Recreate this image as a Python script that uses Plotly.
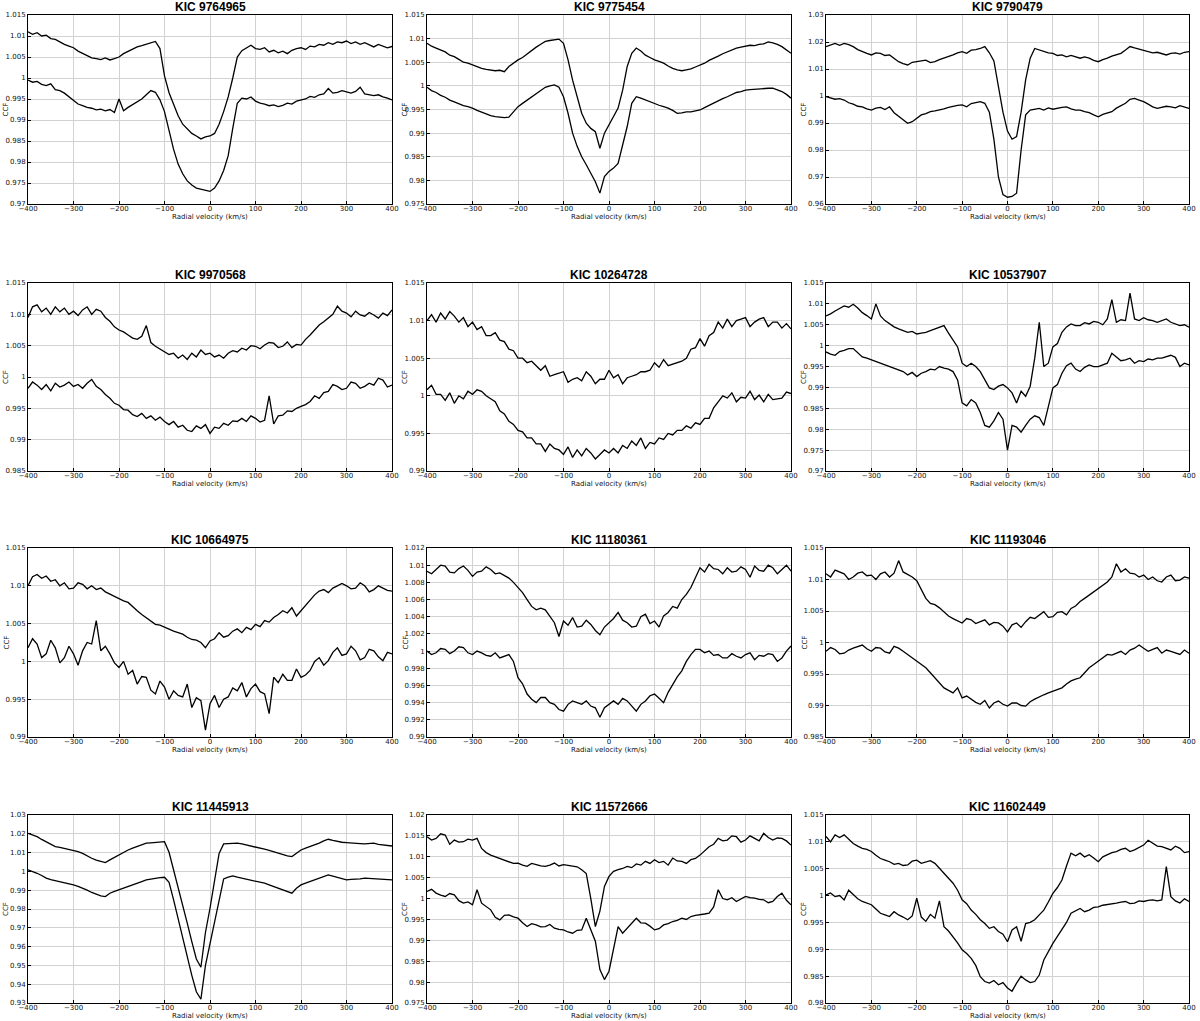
"""Cross-correlation functions of twelve KIC targets"""

import plotly.graph_objects as go

# radial velocity grid (km/s), shared by every panel
RV = list(range(-400, 401, 10))

# CCF values stored as offsets from 1 in units of 1e-4 (CCF = 1 + v * 1e-4)
KIC_9764965_UP = [110, 104, 108, 100, 102, 94, 92, 85, 80, 76,
                  72, 64, 58, 54, 48, 46, 44, 48, 43, 46,
                  50, 58, 64, 70, 74, 77, 80, 84, 87, 70,
                  5, -35, -65, -90, -110, -122, -132, -138, -145, -140,
                  -138, -132, -110, -80, -45, 0, 50, 65, 72, 78,
                  70, 68, 72, 62, 66, 60, 64, 58, 66, 70,
                  72, 68, 76, 74, 80, 78, 84, 80, 86, 84,
                  88, 82, 86, 80, 84, 78, 74, 80, 76, 72,
                  75]
KIC_9764965_LO = [-5, -10, -8, -15, -18, -14, -28, -30, -36, -45,
                  -55, -62, -66, -70, -72, -76, -74, -78, -75, -82,
                  -50, -78, -70, -64, -56, -50, -40, -30, -34, -52,
                  -80, -125, -170, -205, -228, -245, -255, -262, -265, -268,
                  -270, -262, -245, -220, -185, -120, -60, -48, -50, -45,
                  -55, -60, -62, -66, -64, -68, -65, -60, -62, -55,
                  -52, -50, -44, -46, -40, -38, -25, -36, -34, -30,
                  -33, -36, -32, -22, -38, -40, -42, -40, -45, -48,
                  -52]

KIC_9775454_UP = [90, 84, 80, 76, 72, 65, 62, 56, 50, 48,
                  44, 40, 37, 35, 34, 32, 33, 30, 41, 48,
                  55, 60, 68, 76, 82, 88, 94, 96, 97, 99,
                  90, 55, 12, -23, -58, -79, -90, -97, -132, -100,
                  -83, -65, -47, -9, 41, 69, 80, 74, 65, 60,
                  55, 52, 48, 42, 37, 34, 32, 34, 36, 40,
                  44, 48, 54, 58, 63, 68, 72, 76, 80, 82,
                  84, 86, 85, 88, 89, 93, 91, 88, 83, 76,
                  69]
KIC_9775454_LO = [-3, -10, -14, -20, -24, -30, -34, -38, -42, -44,
                  -47, -52, -56, -60, -63, -65, -66, -67, -66, -55,
                  -44, -37, -30, -23, -16, -10, -3, 0, 2, -3,
                  -23, -58, -100, -128, -150, -167, -185, -203, -227, -192,
                  -181, -174, -164, -128, -86, -37, -23, -26, -30, -34,
                  -37, -41, -44, -47, -52, -58, -57, -55, -55, -53,
                  -51, -46, -41, -37, -32, -27, -23, -18, -14, -12,
                  -9, -8, -7, -6, -6, -5, -5, -8, -12, -18,
                  -26]

KIC_9790479_UP = [183, 190, 195, 188, 195, 190, 183, 172, 164, 158,
                  152, 160, 158, 150, 152, 140, 127, 120, 115, 125,
                  127, 130, 133, 124, 127, 135, 140, 146, 152, 160,
                  164, 158, 170, 172, 176, 183, 160, 130, 40, -60,
                  -130, -160, -150, -60, 60, 140, 176, 170, 164, 160,
                  158, 150, 152, 145, 150, 146, 140, 145, 140, 132,
                  127, 135, 140, 148, 152, 158, 170, 183, 178, 174,
                  170, 165, 160, 162, 158, 152, 158, 160, 155, 162,
                  164]
KIC_9790479_LO = [-2, -8, -12, -10, -15, -25, -30, -38, -40, -48,
                  -52, -45, -42, -50, -40, -62, -75, -90, -101, -95,
                  -83, -70, -65, -58, -55, -52, -48, -42, -38, -35,
                  -33, -40, -28, -24, -21, -27, -60, -160, -300, -365,
                  -375, -372, -360, -200, -70, -52, -48, -46, -52, -44,
                  -49, -45, -42, -40, -48, -52, -52, -58, -62, -70,
                  -77, -68, -62, -58, -45, -35, -27, -12, -9, -15,
                  -21, -30, -40, -46, -42, -38, -40, -44, -36, -42,
                  -46]

KIC_9970568_UP = [95, 112, 115, 104, 110, 100, 112, 104, 110, 100,
                  105, 98, 107, 112, 100, 108, 105, 95, 89, 80,
                  75, 72, 67, 62, 60, 65, 82, 55, 49, 45,
                  41, 36, 38, 30, 35, 28, 38, 32, 43, 36,
                  38, 32, 35, 30, 38, 42, 40, 46, 43, 50,
                  49, 45, 51, 55, 54, 47, 49, 56, 47, 52,
                  51, 60, 67, 75, 83, 88, 94, 100, 113, 105,
                  102, 96, 105, 99, 97, 103, 99, 94, 102, 98,
                  107]
KIC_9970568_LO = [-18, -8, -13, -20, -12, -22, -10, -16, -13, -8,
                  -15, -12, -18, -10, -4, -15, -20, -28, -34, -42,
                  -45, -52, -53, -60, -63, -58, -66, -62, -69, -64,
                  -71, -76, -71, -80, -77, -85, -87, -78, -82, -76,
                  -90, -80, -82, -74, -77, -70, -71, -66, -71, -62,
                  -66, -72, -69, -30, -75, -62, -61, -54, -55, -50,
                  -47, -44, -39, -30, -34, -25, -23, -12, -15, -20,
                  -18, -8, -10, -18, -15, -10, -13, -2, -5, -16,
                  -13]

KIC_10264728_UP = [100, 108, 98, 110, 102, 112, 106, 98, 104, 92,
                   98, 88, 92, 80, 80, 84, 74, 72, 62, 60,
                   50, 50, 44, 46, 40, 34, 40, 26, 28, 30,
                   32, 18, 22, 24, 20, 32, 26, 16, 22, 22,
                   34, 24, 28, 16, 24, 26, 28, 32, 32, 34,
                   44, 38, 48, 40, 42, 44, 46, 50, 62, 64,
                   76, 66, 80, 84, 98, 90, 102, 92, 100, 102,
                   104, 92, 98, 102, 104, 92, 98, 98, 90, 96,
                   89]
KIC_10264728_LO = [8, 14, 2, 2, -6, 4, -10, 0, -4, 6,
                   2, 8, 6, 0, -4, -8, -20, -24, -34, -38,
                   -46, -48, -56, -56, -64, -64, -74, -64, -70, -72,
                   -78, -68, -82, -72, -80, -70, -76, -84, -78, -72,
                   -76, -70, -76, -66, -70, -60, -66, -56, -70, -62,
                   -64, -56, -58, -50, -52, -46, -46, -40, -43, -36,
                   -38, -30, -30, -16, -8, 0, -3, 4, -8, -2,
                   -3, 6, -5, 1, -8, 2, -5, -4, -3, 5,
                   3]

KIC_10537907_UP = [71, 76, 83, 88, 95, 92, 99, 90, 79, 72,
                   64, 100, 71, 60, 52, 45, 40, 36, 32, 34,
                   28, 30, 32, 36, 40, 44, 48, 30, 13, -3,
                   -42, -50, -42, -50, -62, -82, -101, -105, -97, -93,
                   -101, -113, -137, -109, -121, -97, -30, 56, -50, -42,
                   -3, 5, 32, 45, 52, 48, 48, 55, 52, 58,
                   56, 50, 64, 110, 56, 62, 60, 126, 64, 60,
                   67, 62, 60, 56, 60, 64, 56, 52, 48, 50,
                   44]
KIC_10537907_LO = [-15, -20, -23, -14, -11, -7, -7, -16, -27, -30,
                   -34, -38, -42, -46, -50, -54, -58, -62, -70, -64,
                   -74, -66, -62, -56, -58, -50, -54, -56, -62, -82,
                   -137, -144, -129, -137, -160, -191, -195, -180, -160, -176,
                   -250, -191, -195, -207, -191, -176, -168, -172, -191, -144,
                   -101, -93, -66, -48, -42, -56, -62, -52, -46, -50,
                   -50, -46, -42, -18, -27, -36, -34, -30, -42, -36,
                   -38, -32, -34, -30, -30, -26, -23, -28, -50, -42,
                   -46]

KIC_10664975_UP = [100, 112, 115, 110, 113, 106, 108, 100, 104, 96,
                   97, 104, 102, 96, 100, 95, 97, 92, 89, 86,
                   82, 80, 78, 72, 67, 62, 58, 54, 49, 48,
                   45, 42, 40, 38, 36, 32, 29, 28, 25, 18,
                   27, 30, 38, 32, 34, 40, 43, 38, 45, 42,
                   49, 46, 54, 52, 58, 62, 67, 64, 71, 60,
                   67, 75, 82, 88, 93, 95, 91, 97, 100, 103,
                   100, 96, 97, 104, 100, 92, 95, 100, 97, 94,
                   93]
KIC_10664975_LO = [18, 30, 23, 5, 10, 28, 18, -2, 5, 20,
                   10, -5, 14, 25, 23, 54, 14, 20, 10, -2,
                   -8, 0, -17, -12, -30, -20, -21, -38, -43, -26,
                   -34, -50, -39, -45, -47, -30, -61, -48, -52, -91,
                   -56, -45, -61, -50, -47, -35, -39, -28, -47, -36,
                   -30, -40, -43, -69, -21, -28, -17, -25, -25, -10,
                   -21, -18, -12, 0, 5, -5, 1, 12, 18, 8,
                   10, 20, 14, 2, 5, 16, 14, 6, 1, 12,
                   10]

KIC_11180361_UP = [93, 90, 95, 100, 99, 92, 91, 96, 99, 94,
                   87, 92, 93, 98, 95, 90, 91, 88, 85, 80,
                   74, 68, 60, 52, 48, 50, 48, 40, 33, 17,
                   35, 30, 39, 28, 29, 36, 31, 24, 19, 28,
                   33, 38, 45, 36, 33, 28, 29, 40, 43, 32,
                   35, 28, 41, 45, 52, 50, 60, 66, 74, 85,
                   97, 92, 101, 96, 95, 90, 97, 92, 93, 98,
                   95, 86, 99, 94, 93, 100, 97, 90, 95, 100,
                   93]
KIC_11180361_LO = [0, -4, -2, 3, 2, -3, 0, 5, 4, -2,
                   -4, 0, -2, -5, -6, -2, -8, -6, -4, -12,
                   -31, -38, -50, -56, -60, -54, -54, -60, -62, -68,
                   -70, -62, -58, -60, -62, -58, -64, -66, -77, -66,
                   -62, -58, -62, -55, -58, -64, -70, -62, -58, -52,
                   -50, -55, -60, -48, -39, -30, -23, -12, -4, 2,
                   2, -2, 0, -5, -4, -8, -8, -3, -6, -8,
                   -4, -2, -10, -5, -6, -3, -4, -12, -8, 0,
                   6]

KIC_11193046_UP = [109, 104, 115, 112, 109, 100, 104, 110, 112, 106,
                   107, 100, 109, 112, 104, 110, 130, 112, 108, 104,
                   98, 85, 70, 62, 60, 55, 49, 42, 38, 34,
                   31, 38, 36, 30, 33, 36, 28, 32, 31, 26,
                   17, 28, 31, 24, 33, 40, 38, 44, 49, 40,
                   41, 48, 49, 44, 54, 58, 65, 70, 75, 80,
                   86, 90, 96, 104, 125, 112, 117, 110, 109, 104,
                   107, 100, 104, 98, 96, 104, 107, 98, 99, 104,
                   102]
KIC_11193046_LO = [-14, -8, -11, -18, -17, -12, -9, -6, -4, -10,
                   -14, -8, -9, -15, -17, -6, -9, -14, -19, -24,
                   -30, -35, -40, -48, -56, -64, -72, -76, -80, -72,
                   -88, -85, -90, -95, -98, -92, -104, -96, -93, -98,
                   -101, -96, -96, -100, -101, -94, -90, -86, -83, -80,
                   -77, -74, -72, -66, -61, -58, -56, -48, -40, -35,
                   -30, -24, -19, -20, -17, -14, -19, -12, -9, -4,
                   -9, -14, -11, -8, -17, -12, -14, -16, -19, -12,
                   -17]

KIC_11445913_UP = [203, 195, 185, 170, 158, 145, 132, 128, 123, 118,
                   114, 105, 96, 82, 70, 60, 52, 47, 61, 75,
                   88, 100, 114, 124, 132, 142, 150, 152, 153, 156,
                   158, 102, 10, -88, -187, -275, -374, -466, -510, -325,
                   -196, -42, 96, 146, 148, 150, 150, 146, 141, 136,
                   132, 126, 118, 112, 105, 96, 88, 82, 79, 98,
                   114, 124, 132, 140, 150, 162, 171, 165, 158, 155,
                   153, 150, 150, 148, 146, 150, 150, 144, 141, 138,
                   135]
KIC_11445913_LO = [8, 0, -10, -22, -36, -44, -49, -54, -59, -66,
                   -72, -80, -89, -100, -112, -122, -130, -134, -116, -106,
                   -98, -90, -81, -72, -63, -54, -45, -40, -36, -33,
                   -31, -58, -151, -254, -355, -452, -553, -640, -680, -500,
                   -387, -265, -142, -40, -31, -24, -31, -36, -42, -48,
                   -54, -58, -63, -72, -81, -90, -98, -108, -116, -90,
                   -72, -62, -54, -45, -36, -28, -19, -25, -31, -40,
                   -45, -42, -42, -40, -36, -38, -36, -40, -42, -44,
                   -45]

KIC_11572666_UP = [148, 140, 144, 155, 152, 130, 140, 135, 136, 142,
                   140, 144, 120, 110, 104, 100, 97, 92, 89, 84,
                   85, 80, 77, 84, 81, 78, 77, 80, 85, 78,
                   81, 79, 77, 76, 69, 60, 0, -67, -30, 29,
                   53, 65, 69, 72, 77, 74, 83, 80, 89, 84,
                   93, 86, 89, 80, 97, 90, 89, 84, 93, 96,
                   104, 114, 124, 130, 144, 138, 140, 150, 148, 135,
                   140, 150, 144, 138, 156, 146, 140, 145, 144, 138,
                   128]
KIC_11572666_LO = [17, 22, 13, 8, 5, 12, 9, -5, -11, -8,
                   -15, 21, -11, -18, -27, -45, -51, -40, -39, -44,
                   -47, -58, -67, -60, -63, -68, -67, -62, -71, -74,
                   -75, -80, -83, -76, -75, -47, -75, -102, -170, -194,
                   -174, -122, -67, -83, -71, -60, -47, -58, -59, -66,
                   -75, -72, -63, -60, -55, -52, -47, -50, -43, -40,
                   -39, -37, -35, -20, 21, 0, -3, 2, -7, 0,
                   5, 2, 1, -2, -3, -10, -7, 5, 13, -4,
                   -15]

KIC_11602449_UP = [110, 100, 113, 108, 113, 104, 97, 92, 88, 86,
                   82, 75, 69, 66, 63, 58, 60, 56, 57, 64,
                   66, 60, 63, 65, 60, 51, 41, 32, 23, 10,
                   -8, -15, -27, -35, -45, -52, -61, -58, -67, -72,
                   -86, -64, -58, -85, -52, -50, -45, -36, -27, -12,
                   4, 15, 29, 55, 79, 74, 79, 72, 76, 70,
                   63, 72, 76, 80, 82, 86, 88, 82, 85, 90,
                   94, 103, 98, 92, 91, 88, 85, 92, 88, 80,
                   82]
KIC_11602449_LO = [1, 5, -2, 0, -8, 10, 2, -6, -11, -14,
                   -17, -25, -33, -36, -39, -30, -36, -40, -45, -38,
                   -5, -40, -48, -35, -42, -10, -58, -66, -76, -88,
                   -101, -108, -117, -130, -151, -160, -163, -158, -166, -162,
                   -172, -178, -163, -150, -157, -162, -160, -148, -120, -104,
                   -89, -76, -64, -50, -33, -28, -24, -30, -27, -22,
                   -21, -18, -17, -15, -14, -12, -11, -15, -14, -10,
                   -11, -9, -8, -10, -8, 54, -2, -10, -14, -6,
                   -11]

TITLES = ["KIC 9764965", "KIC 9775454", "KIC 9790479",
          "KIC 9970568", "KIC 10264728", "KIC 10537907",
          "KIC 10664975", "KIC 11180361", "KIC 11193046",
          "KIC 11445913", "KIC 11572666", "KIC 11602449"]
UPPER = [KIC_9764965_UP, KIC_9775454_UP, KIC_9790479_UP,
         KIC_9970568_UP, KIC_10264728_UP, KIC_10537907_UP,
         KIC_10664975_UP, KIC_11180361_UP, KIC_11193046_UP,
         KIC_11445913_UP, KIC_11572666_UP, KIC_11602449_UP]
LOWER = [KIC_9764965_LO, KIC_9775454_LO, KIC_9790479_LO,
         KIC_9970568_LO, KIC_10264728_LO, KIC_10537907_LO,
         KIC_10664975_LO, KIC_11180361_LO, KIC_11193046_LO,
         KIC_11445913_LO, KIC_11572666_LO, KIC_11602449_LO]
Y_RANGES = [(0.97, 1.015), (0.975, 1.015), (0.96, 1.03),
            (0.985, 1.015), (0.99, 1.015), (0.97, 1.015),
            (0.99, 1.015), (0.99, 1.012), (0.985, 1.015),
            (0.93, 1.03), (0.975, 1.02), (0.98, 1.015)]
Y_STEPS = [0.005, 0.005, 0.01,
           0.005, 0.005, 0.005,
           0.005, 0.002, 0.005,
           0.01, 0.005, 0.005]

W, H = 1200, 1021
COL_X = [(28, 392), (427, 791), (826, 1189)]
ROW_Y = [(15, 204), (283, 471), (548, 737), (815, 1003)]
SMALL = dict(size=7, color="#111111", family="DejaVu Sans")

fig = go.Figure()
annotations = []
layout = {}

for i, title in enumerate(TITLES):
    row, col = divmod(i, 3)
    n = i + 1
    xa = "x" if n == 1 else f"x{n}"
    ya = "y" if n == 1 else f"y{n}"
    x0, x1 = COL_X[col]
    top, bottom = ROW_Y[row]
    xdom = [x0 / W, x1 / W]
    ydom = [1 - bottom / H, 1 - top / H]

    for series in (UPPER[i], LOWER[i]):
        fig.add_trace(
            go.Scatter(
                x=RV,
                y=[1 + v * 1e-4 for v in series],
                mode="lines",
                line=dict(color="black", width=1.3),
                xaxis=xa,
                yaxis=ya,
                showlegend=False,
                hoverinfo="skip",
            )
        )

    axis_style = dict(
        showline=True,
        linecolor="black",
        linewidth=1,
        mirror=True,
        showgrid=True,
        gridcolor="#d2d2d2",
        gridwidth=1,
        zeroline=False,
        ticks="inside",
        ticklen=3,
        tickcolor="black",
        tickfont=SMALL,
        automargin=False,
    )
    layout["xaxis" if n == 1 else f"xaxis{n}"] = dict(
        axis_style,
        domain=xdom,
        anchor=ya,
        range=[-400, 400],
        tick0=-400,
        dtick=100,
        ticklabelstandoff=-2,
    )
    ymin, ymax = Y_RANGES[i]
    layout["yaxis" if n == 1 else f"yaxis{n}"] = dict(
        axis_style,
        domain=ydom,
        anchor=xa,
        range=[ymin, ymax],
        tick0=ymin,
        dtick=Y_STEPS[i],
    )

    # panel title
    annotations.append(
        dict(
            text=f"<b>{title}</b>",
            x=(xdom[0] + xdom[1]) / 2,
            y=ydom[1],
            xref="paper",
            yref="paper",
            xanchor="center",
            yanchor="bottom",
            yshift=-1,
            showarrow=False,
            font=dict(size=12, color="black", family="Liberation Sans"),
        )
    )
    # axis titles
    annotations.append(
        dict(
            text="CCF",
            x=(x0 - 22) / W,
            y=(ydom[0] + ydom[1]) / 2,
            xref="paper",
            yref="paper",
            xanchor="center",
            yanchor="middle",
            textangle=-90,
            showarrow=False,
            font=SMALL,
        )
    )
    annotations.append(
        dict(
            text="Radial velocity (km/s)",
            x=(xdom[0] + xdom[1]) / 2,
            y=1 - (bottom + 13) / H,
            xref="paper",
            yref="paper",
            xanchor="center",
            yanchor="middle",
            showarrow=False,
            font=SMALL,
        )
    )

fig.update_layout(
    width=W,
    height=H,
    margin=dict(l=0, r=0, t=0, b=0),
    paper_bgcolor="white",
    plot_bgcolor="white",
    annotations=annotations,
    **layout,
)

fig.write_html(
    "out.html",
    config={"displayModeBar": False},
    post_script="document.body.style.margin = '0';",
)
